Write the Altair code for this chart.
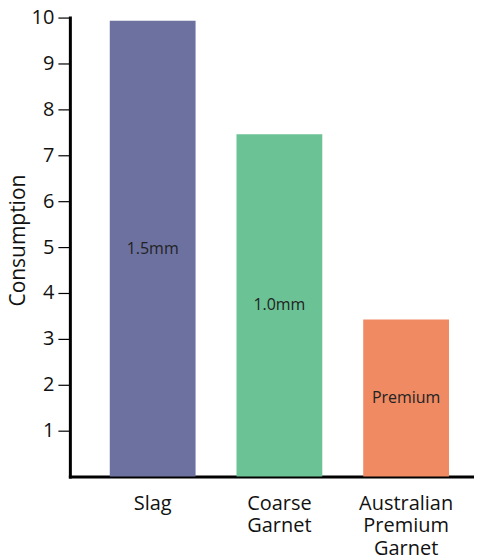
import altair as alt
import pandas as pd

categories = ["Slag", "Coarse Garnet", "Australian Premium Garnet"]
values = [9.93, 7.46, 3.42]
bar_labels = ["1.5mm", "1.0mm", "Premium"]
colors = ["#6c71a0", "#6bc295", "#ef8a62"]
y_ticks = [1, 2, 3, 4, 5, 6, 7, 8, 9, 10]

df = pd.DataFrame({"cat": categories, "val": values, "lab": bar_labels})

FONT = "Open Sans"

x = alt.X(
    "cat:N",
    sort=categories,
    scale=alt.Scale(paddingInner=0.323, paddingOuter=0.256, align=0.615),
    axis=alt.Axis(
        title=None,
        labelAngle=0,
        labelExpr="split(datum.label, ' ')",
        labelFontSize=20,
        labelLineHeight=22.5,
        labelColor="#111",
        labelFont=FONT,
        labelPadding=17,
        ticks=False,
        domainColor="#000",
        domainWidth=3,
        labelBaseline="top",
    ),
)

bars = alt.Chart(df).mark_bar().encode(
    x=x,
    y=alt.Y(
        "val:Q",
        scale=alt.Scale(domain=[0, 10], nice=False),
        axis=alt.Axis(
            title="Consumption",
            values=y_ticks,
            grid=False,
            tickSize=12,
            tickColor="#000",
            tickWidth=1.2,
            domainColor="#000",
            domainWidth=3,
            labelFontSize=20,
            labelColor="#111",
            labelFont=FONT,
            labelPadding=4,
            titleFontSize=21,
            titleFontWeight="normal",
            titleFont=FONT,
            titleColor="#111",
            titlePadding=3,
            titleY=223,
        ),
    ),
    color=alt.Color("cat:N", scale=alt.Scale(domain=categories, range=colors), legend=None),
)

text = alt.Chart(df).transform_calculate(mid="datum.val / 2").mark_text(
    fontSize=16, font=FONT, color="#222"
).encode(
    x=alt.X("cat:N", sort=categories),
    y=alt.Y("mid:Q"),
    text="lab:N",
)

chart = alt.layer(bars, text).properties(
    width=405,
    height=460,
    autosize=alt.AutoSizeParams(type="none"),
    padding={"left": 62, "top": 9, "right": 0, "bottom": 85},
).configure_view(stroke=None).configure_axis(domainCap="square")

chart.save("out.html", embed_options={"renderer": "svg", "actions": False})
